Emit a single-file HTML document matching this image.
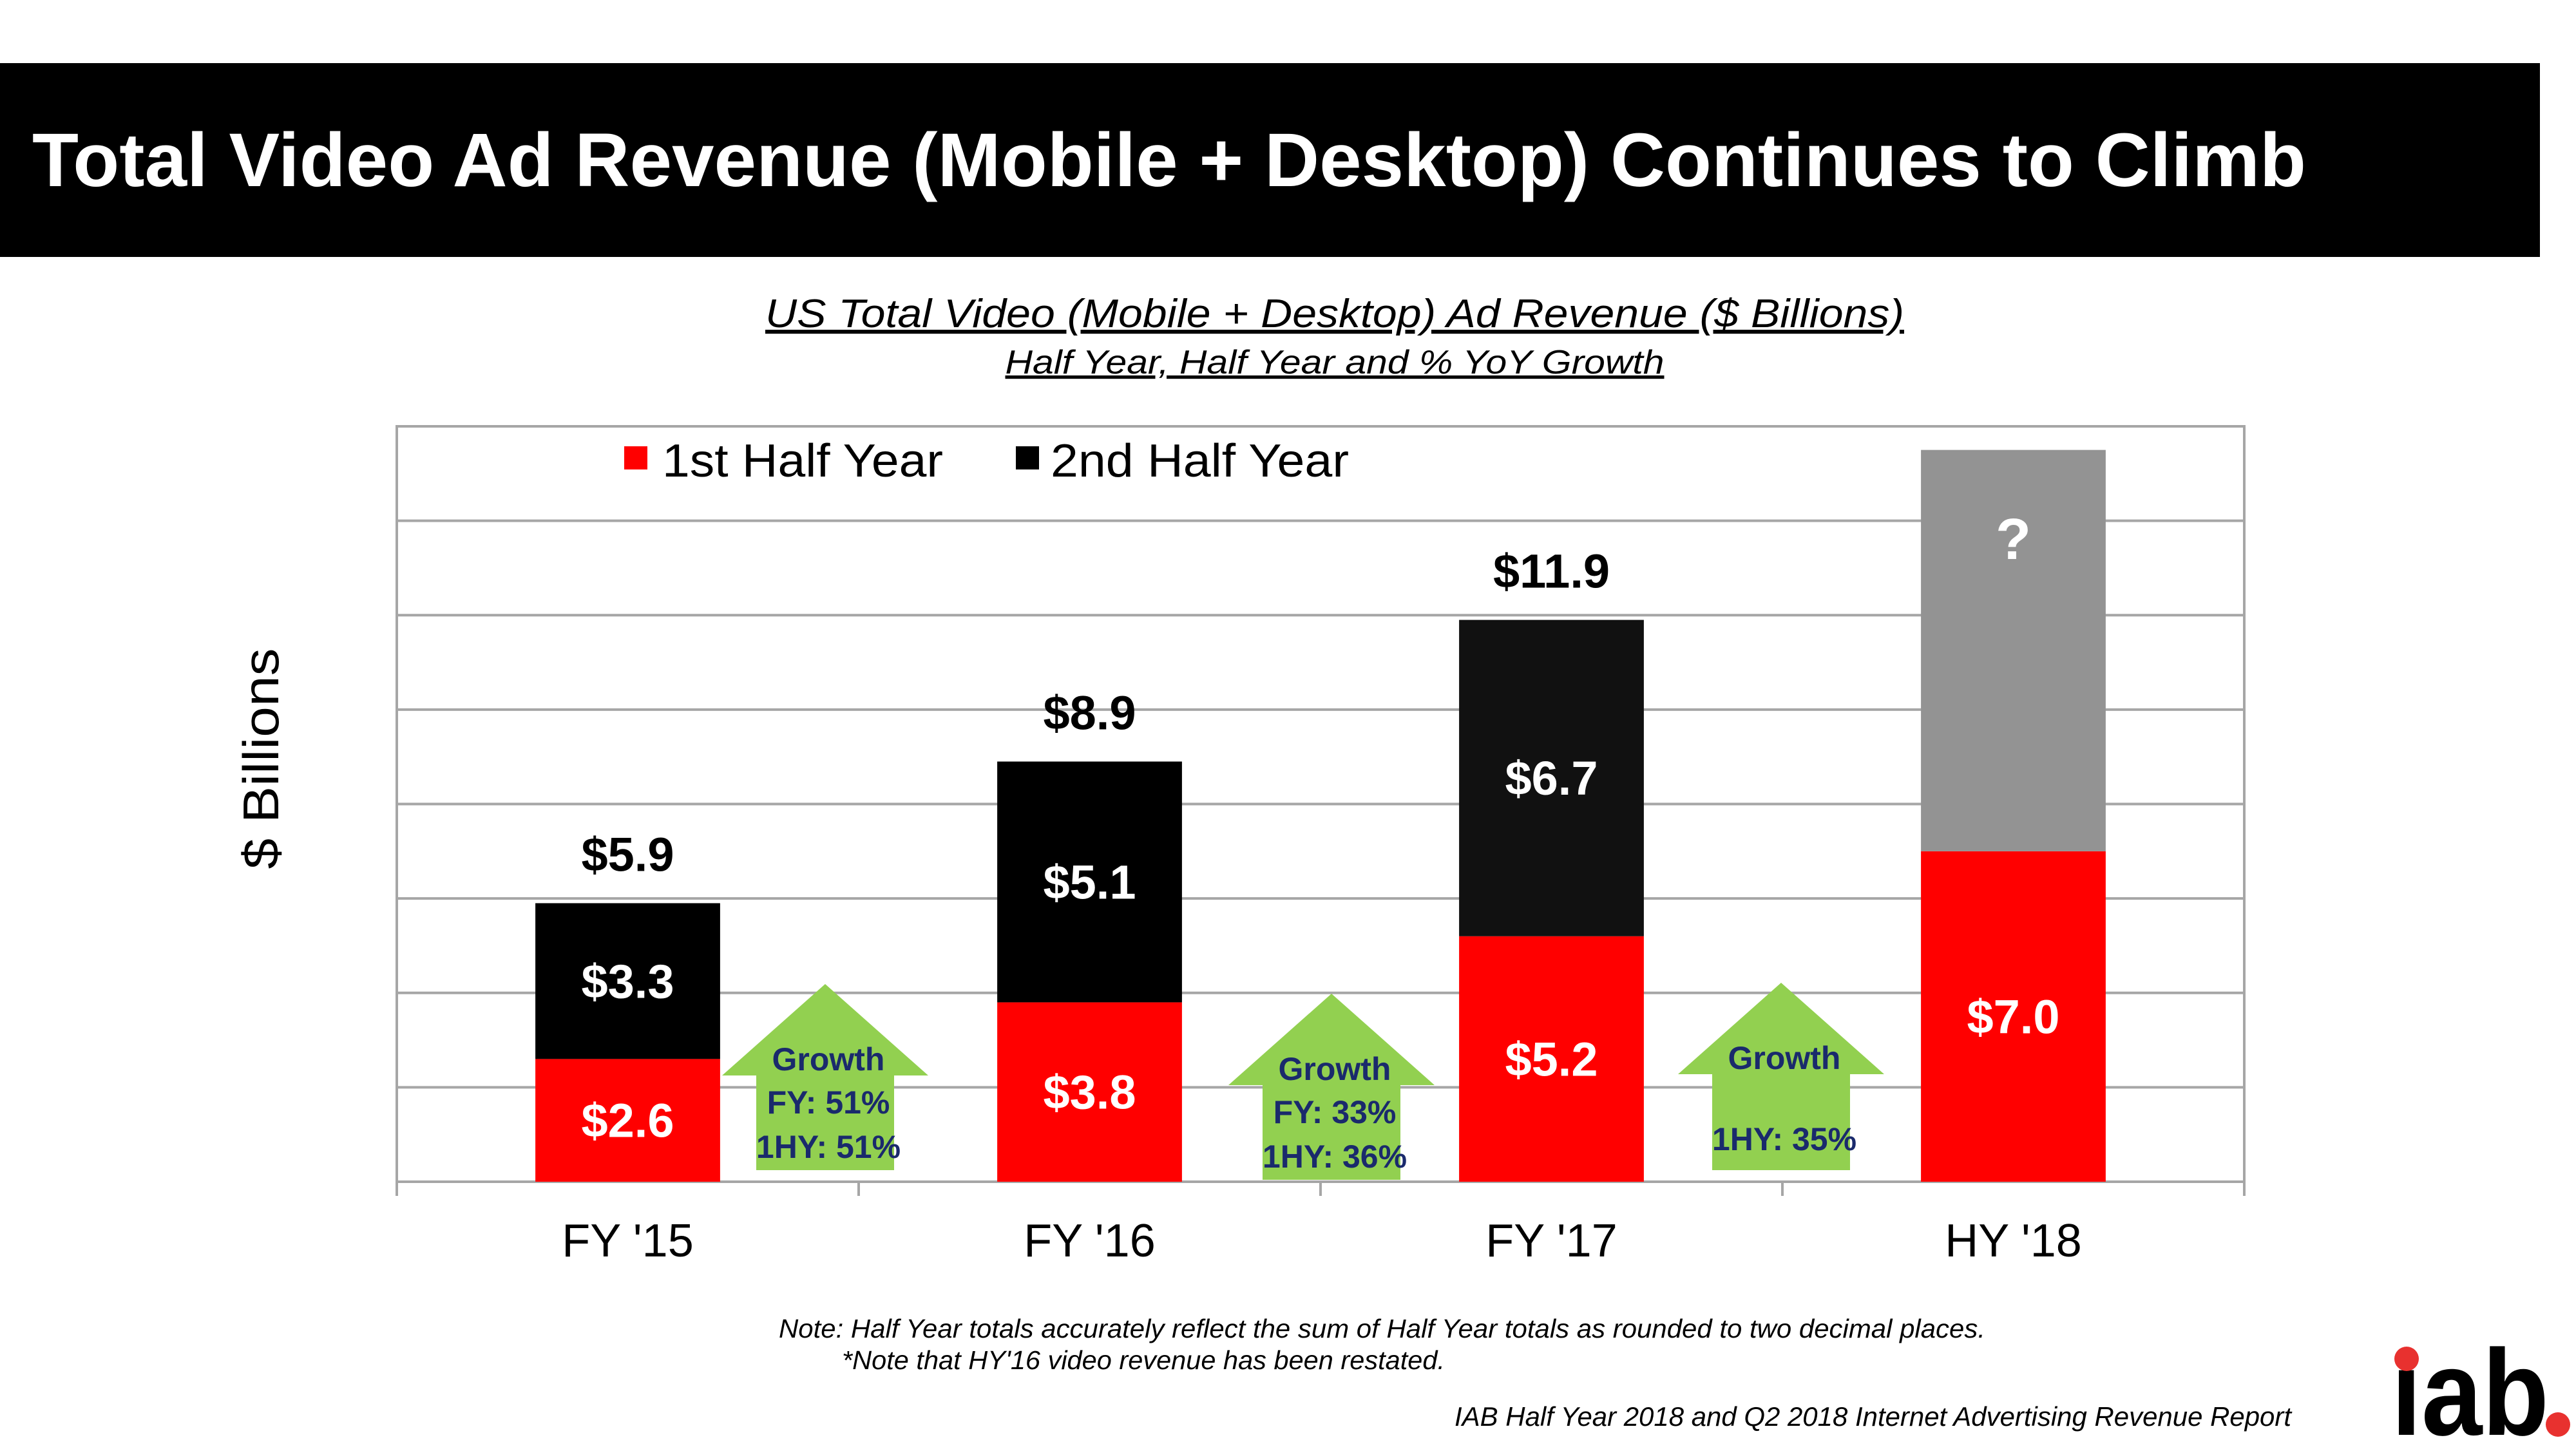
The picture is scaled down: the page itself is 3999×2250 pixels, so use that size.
<!DOCTYPE html>
<html><head><meta charset="utf-8"><style>
html,body{margin:0;padding:0;background:#fff;}
svg{display:block;font-family:"Liberation Sans",sans-serif;}
</style></head><body>
<svg id="chart" width="3999" height="2250" viewBox="0 0 3999 2250" xmlns="http://www.w3.org/2000/svg">
<rect x="0" y="98" width="3943" height="301" fill="#000"/>
<text x="50" y="289" fill="#fff" font-weight="bold" font-size="118" textLength="3530" lengthAdjust="spacingAndGlyphs">Total Video Ad Revenue (Mobile + Desktop) Continues to Climb</text>
<text x="2072" y="508" text-anchor="middle" font-style="italic" font-size="62" text-decoration="underline" textLength="1768" lengthAdjust="spacingAndGlyphs">US Total  Video (Mobile + Desktop) Ad Revenue ($ Billions)</text>
<text x="2072" y="580" text-anchor="middle" font-style="italic" font-size="52" text-decoration="underline" textLength="1023" lengthAdjust="spacingAndGlyphs">Half Year, Half Year and % YoY Growth</text>
<text transform="translate(432,1178) rotate(-90)" text-anchor="middle" font-size="78" textLength="343" lengthAdjust="spacingAndGlyphs">$ Billions</text>
<g id="grid"></g><g id="bars"></g><g id="arrows"></g>
<rect x="969" y="693" width="36" height="36" fill="#ff0000"/>
<text x="1028" y="740" font-size="72" textLength="436" lengthAdjust="spacingAndGlyphs">1st Half Year</text>
<rect x="1577" y="693" width="36" height="36" fill="#000"/>
<text x="1631" y="740" font-size="72" textLength="463" lengthAdjust="spacingAndGlyphs">2nd Half Year</text>
<text x="1209" y="2077" font-style="italic" font-size="41" textLength="1873" lengthAdjust="spacingAndGlyphs">Note: Half Year totals accurately reflect the sum of Half Year totals as rounded to two decimal places.</text>
<text x="1307" y="2126" font-style="italic" font-size="41" textLength="936" lengthAdjust="spacingAndGlyphs">*Note that HY'16 video revenue has been restated.</text>
<text x="2258" y="2214" font-style="italic" font-size="42" textLength="1299" lengthAdjust="spacingAndGlyphs">IAB Half Year 2018 and Q2 2018 Internet Advertising Revenue Report</text>
<g>
<text x="3712" y="2228" font-weight="bold" font-size="190" textLength="245" lengthAdjust="spacingAndGlyphs">ıab</text>
<circle cx="3736" cy="2110" r="19" fill="#e8312f"/>
<circle cx="3971" cy="2212" r="19" fill="#e8312f"/>
</g>
</svg>
<script>
const categories = ["FY '15","FY '16","FY '17","HY '18"];
const firstHalf = [2.6, 3.8, 5.2, 7.0];
const secondHalf = [3.3, 5.1, 6.7, 8.5];
const firstLabels = ["$2.6","$3.8","$5.2","$7.0"];
const secondLabels = ["$3.3","$5.1","$6.7","?"];
const totalLabels = ["$5.9","$8.9","$11.9",""];
const yTicks = [0,2,4,6,8,10,12,14,16];
const growthTitles = ["Growth","Growth","Growth"];
const growthFY = ["FY: 51%","FY:  33%",""];
const growthHY = ["1HY: 51%","1HY: 36%","1HY: 35%"];

const NS="http://www.w3.org/2000/svg";
const L=616,R=3484,T=662,B=1835,yMax=16;
const band=(R-L)/categories.length;
const y=v=>B-(v/yMax)*(B-T);
const xc=i=>L+band*(i+0.5);
const bw=band*0.4;
const arrowX=[1281,2067,2765];
function mk(tag,attrs,parent,txt){const e=document.createElementNS(NS,tag);for(const k in attrs)e.setAttribute(k,attrs[k]);if(txt!==undefined)e.textContent=txt;parent.appendChild(e);return e;}
const grid=document.getElementById('grid'),bars=document.getElementById('bars'),arrows=document.getElementById('arrows');
mk('rect',{x:L,y:T,width:R-L,height:B-T,fill:'none',stroke:'#a6a6a6','stroke-width':4},grid);
yTicks.forEach(t=>{const l=mk('line',{x1:L,x2:R,y1:y(t),y2:y(t),stroke:'#a6a6a6','stroke-width':4},grid);

});
for(let i=0;i<=categories.length;i++){const tk=mk('line',{x1:L+band*i,x2:L+band*i,y1:B,y2:B+22,stroke:'#a6a6a6','stroke-width':4},grid);

}
categories.forEach((c,i)=>{
 const cx=xc(i);
 const r=mk('rect',{x:cx-bw/2,y:y(firstHalf[i]),width:bw,height:B-y(firstHalf[i]),fill:'#ff0000'},bars);
 
 
 const top=firstHalf[i]+secondHalf[i];
 const b=mk('rect',{x:cx-bw/2,y:y(top),width:bw,height:y(firstHalf[i])-y(top),fill:i==3?'#939393':(i==2?'#111':'#000')},bars);
 
 
 const fl=mk('text',{x:cx,y:(y(firstHalf[i])+B)/2+26,'text-anchor':'middle',fill:'#fff','font-weight':'bold','font-size':74},bars,firstLabels[i]);
 
 
 const sl=mk('text',{x:cx,y:i==3?868:(y(top)+y(firstHalf[i]))/2+26,'text-anchor':'middle',fill:'#fff','font-weight':'bold','font-size':i==3?90:74},bars,secondLabels[i]);
 
 
 if(totalLabels[i]){const tl=mk('text',{x:cx,y:y(top)-50,'text-anchor':'middle',fill:'#000','font-weight':'bold','font-size':74},bars,totalLabels[i]);
 
 }
 const xl=mk('text',{x:cx,y:1951,'text-anchor':'middle','font-size':72},bars,c);
 
 
});
growthTitles.forEach((g,i)=>{
 const cx=arrowX[i], tipY=[1528,1543,1526][i], baseY=tipY+142, botY=[1817,1832,1817][i];
 const hw=160, sw=107;
 const p=mk('polygon',{points:`${cx},${tipY} ${cx+hw},${baseY} ${cx+sw},${baseY} ${cx+sw},${botY} ${cx-sw},${botY} ${cx-sw},${baseY} ${cx-hw},${baseY}`,fill:'#92d050'},arrows);
 
 
 const off=tipY-1528;
 const t1=mk('text',{x:cx+5,y:1662+off,'text-anchor':'middle',fill:'#1a2a6c','font-weight':'bold','font-size':50},arrows,g);
 
 
 if(growthFY[i]){const t2=mk('text',{x:cx+5,y:1729+off,'text-anchor':'middle',fill:'#1a2a6c','font-weight':'bold','font-size':50},arrows,growthFY[i]);
 
 }
 const t3=mk('text',{x:cx+5,y:(i==2?1786:1798)+(i==2?0:off),'text-anchor':'middle',fill:'#1a2a6c','font-weight':'bold','font-size':50},arrows,growthHY[i]);
 
 
});
</script>
</body></html>
